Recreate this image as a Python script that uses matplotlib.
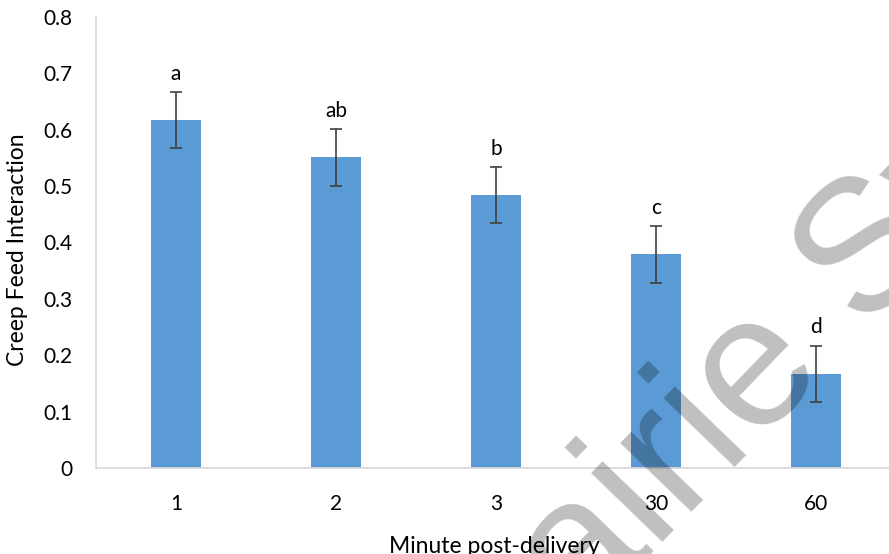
import matplotlib
matplotlib.use("Agg")
import matplotlib.pyplot as plt

# Creep feed interaction by minute post-delivery
categories = ["1", "2", "3", "30", "60"]
values = [0.617, 0.551, 0.484, 0.379, 0.167]
errors = [0.05, 0.05, 0.05, 0.05, 0.05]
letters = ["a", "ab", "b", "c", "d"]
yticks = [0, 0.1, 0.2, 0.3, 0.4, 0.5, 0.6, 0.7, 0.8]
ytick_labels = ["0", "0.1", "0.2", "0.3", "0.4", "0.5", "0.6", "0.7", "0.8"]

plt.rcParams["font.family"] = ["Lato", "DejaVu Sans"]

W, H = 889, 554
fig = plt.figure(figsize=(W / 100, H / 100), dpi=100)
ax = fig.add_axes([96 / W, (H - 468) / H, 800 / W, (468 - 17) / H])

x = list(range(len(categories)))
ax.bar(x, values, width=0.31, color="#5b9bd5", zorder=2)
ax.errorbar(x, values, yerr=errors, fmt="none", ecolor="#404040",
            elinewidth=1.2, capsize=4, capthick=1.2, zorder=3)
for xi, v, e, lab in zip(x, values, errors, letters):
    ax.annotate(lab, (xi, v + e), xytext=(0, 6), textcoords="offset points",
                ha="center", va="bottom", fontsize=15, color="#000000")

ax.set_xlim(-0.5, 4.5)
ax.set_ylim(0, 0.8)
ax.set_xticks(x)
ax.set_xticklabels(categories)
ax.set_yticks(yticks)
ax.set_yticklabels(ytick_labels)
ax.tick_params(axis="both", length=0, labelsize=15, colors="#000000")
ax.tick_params(axis="y", pad=17)
ax.tick_params(axis="x", pad=19)
for side in ("top", "right"):
    ax.spines[side].set_visible(False)
for side in ("left", "bottom"):
    ax.spines[side].set_color("#d9d9d9")
    ax.spines[side].set_linewidth(1.2)

fig.text(18 / W, (H - 250) / H, "Creep Feed Interaction", fontsize=16.5,
         rotation=90, ha="center", va="center")
fig.text(494 / W, (H - 553) / H, "Minute post-delivery", fontsize=16.5,
         ha="center", va="baseline")

# Semi-transparent watermark across the plot
fig.text(800 / W, (H - 330) / H, "Prairie Swine", fontsize=135,
         family="Liberation Sans", color="black", alpha=0.25,
         rotation=46, rotation_mode="anchor", ha="center", va="center",
         zorder=10)

fig.savefig("out.png", dpi=100)
